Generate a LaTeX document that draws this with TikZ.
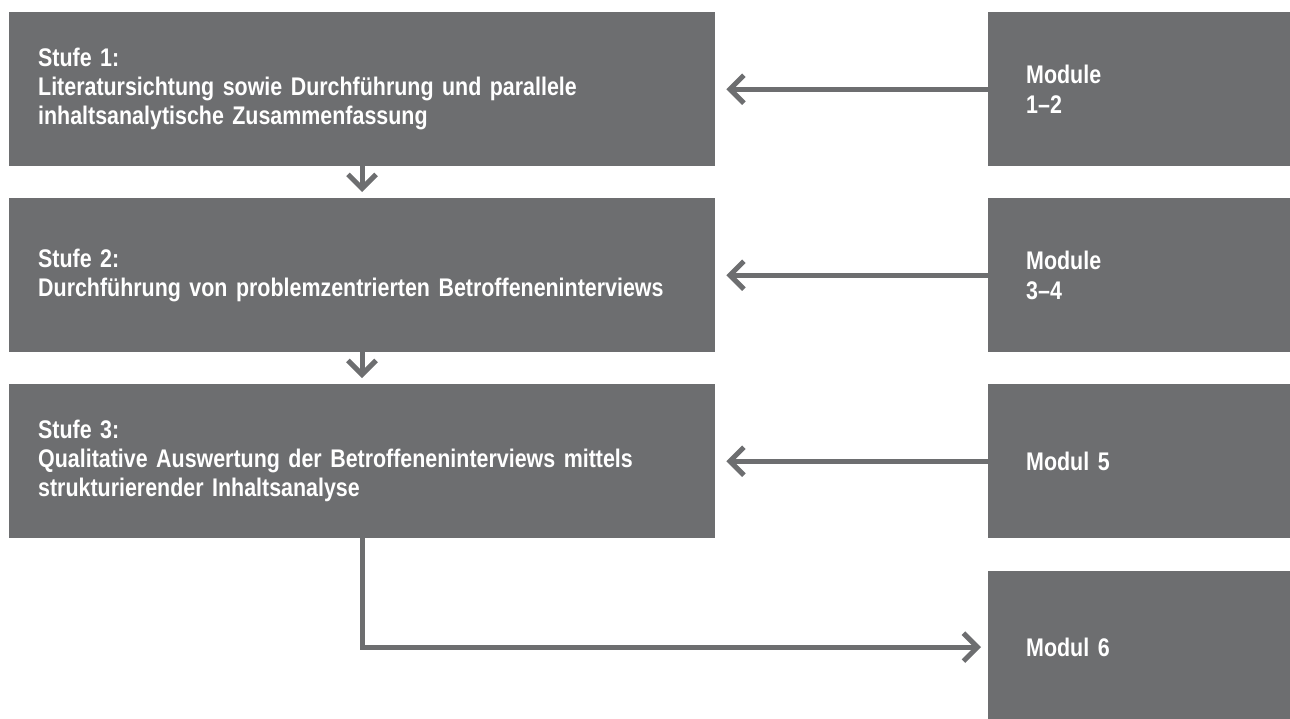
\documentclass[tikz,border=0pt]{standalone}
\usepackage{fontspec}
\setmainfont{Liberation Sans}[FakeStretch=0.84, WordSpace=0.7]
\usetikzlibrary{arrows.meta}
\definecolor{boxgray}{RGB}{109,110,112}
\tikzset{
  stage/.style={fill=boxgray, text=white, anchor=north west, minimum width=706pt, minimum height=154pt,
    inner xsep=29pt, inner ysep=0pt, text width=648pt, align=left,
    font=\fontsize{25.5pt}{29pt}\selectfont\bfseries},
  modbox/.style={fill=boxgray, text=white, anchor=north west, minimum width=302pt, minimum height=154pt,
    inner xsep=38pt, inner ysep=0pt, text width=226pt, align=left,
    font=\fontsize{25.5pt}{30pt}\selectfont\bfseries},
  arr/.style={draw=boxgray, line width=5pt, -{Straight Barb[length=14pt,width=28pt]}}
}
\begin{document}
\begin{tikzpicture}[x=1pt,y=-1pt]
\useasboundingbox (0,0) rectangle (1290,718);
\clip (0,0) rectangle (1290,718);
\node[stage] (s1) at (9,12) {Stufe 1:\\Literatursichtung sowie Durchführung und parallele\\inhaltsanalytische Zusammenfassung};
\node[stage] (s2) at (9,198) {Stufe 2:\\Durchführung von problemzentrierten Betroffeneninterviews};
\node[stage] (s3) at (9,384) {Stufe 3:\\Qualitative Auswertung der Betroffeneninterviews mittels\\strukturierender Inhaltsanalyse};
\node[modbox] (m1) at (988,12) {Module\\1–2};
\node[modbox] (m2) at (988,198) {Module\\3–4};
\node[modbox] (m3) at (988,384) {Modul 5};
\node[modbox, minimum height=152pt] (m4) at (988,571) {Modul 6};
\coordinate (vx) at (362,0);
\draw[arr, shorten >=11pt] (m1.west) -- (s1.east);
\draw[arr, shorten >=11pt] (m2.west) -- (s2.east);
\draw[arr, shorten >=11pt] (m3.west) -- (s3.east);
\draw[arr, shorten >=6pt] (vx |- s1.south) -- (vx |- s2.north);
\draw[arr, shorten >=6pt] (vx |- s2.south) -- (vx |- s3.north);
\draw[arr, shorten >=7pt] (vx |- s3.south) |- (m4.west);
\end{tikzpicture}
\end{document}
